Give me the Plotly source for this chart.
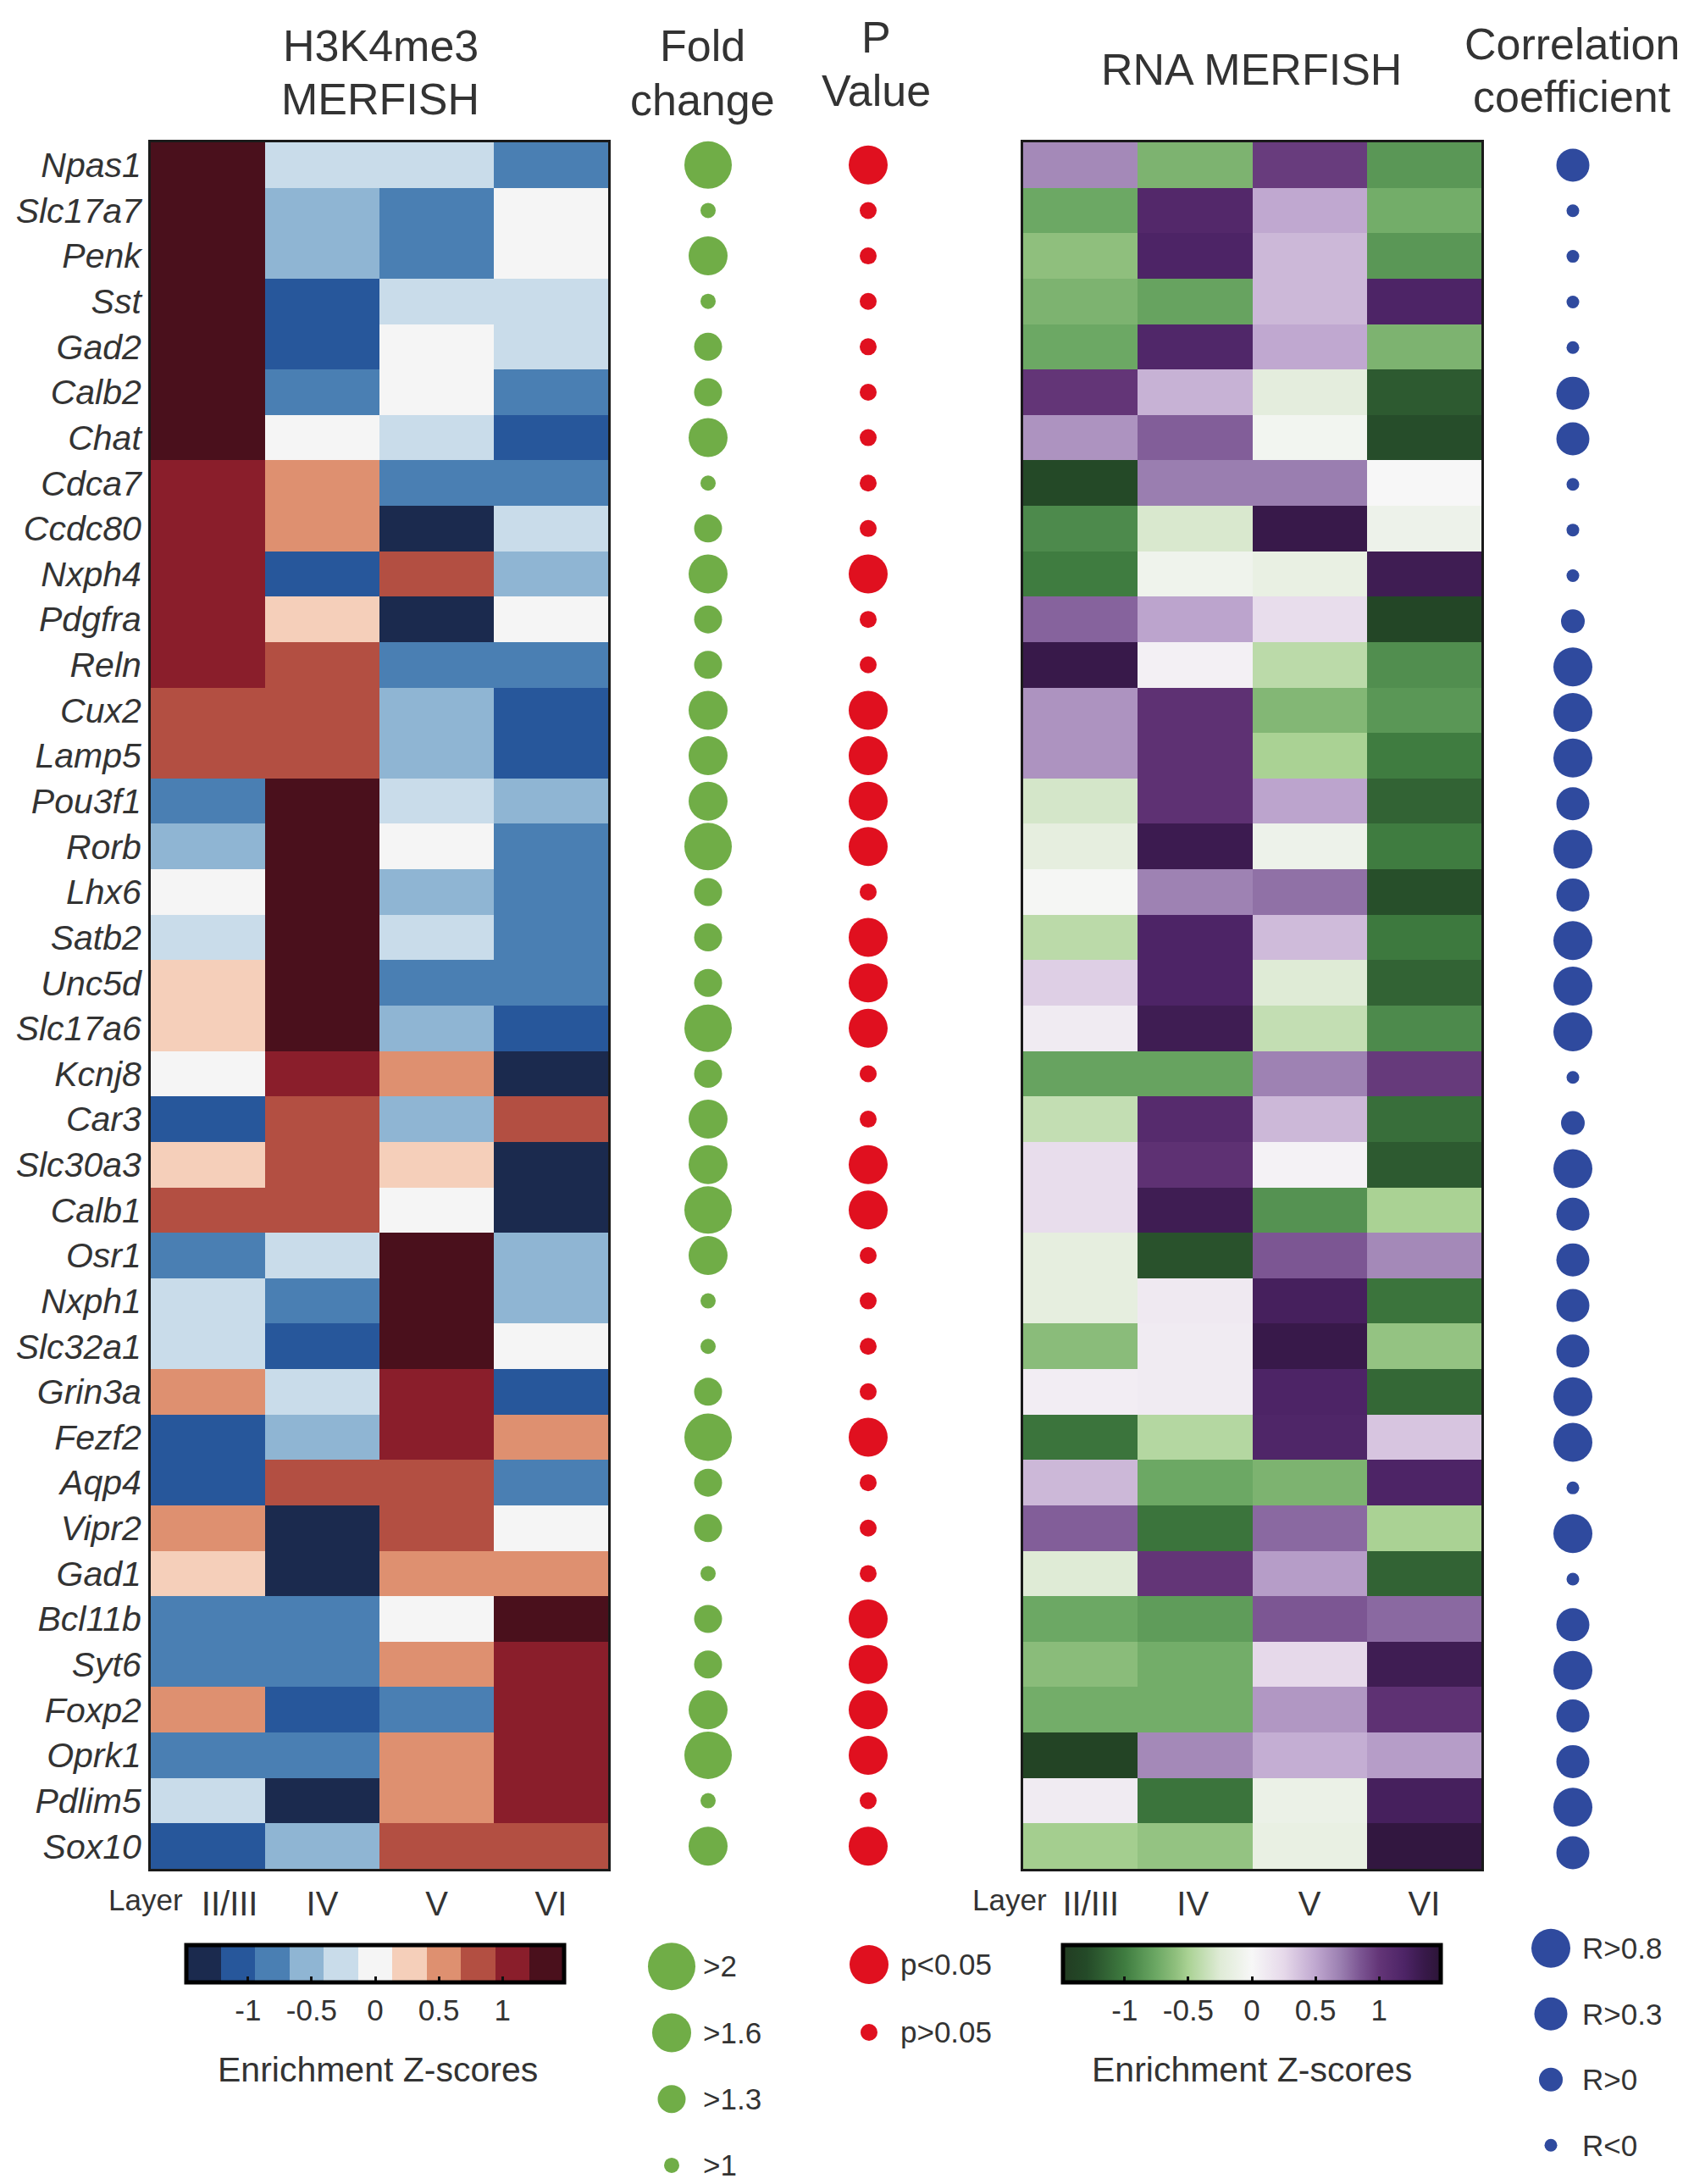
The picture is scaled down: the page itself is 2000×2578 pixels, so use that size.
import plotly.graph_objects as go

genes = ["Npas1","Slc17a7","Penk","Sst","Gad2","Calb2","Chat","Cdca7","Ccdc80","Nxph4","Pdgfra","Reln","Cux2","Lamp5","Pou3f1","Rorb","Lhx6","Satb2","Unc5d","Slc17a6","Kcnj8","Car3","Slc30a3","Calb1","Osr1","Nxph1","Slc32a1","Grin3a","Fezf2","Aqp4","Vipr2","Gad1","Bcl11b","Syt6","Foxp2","Oprk1","Pdlim5","Sox10"]
layers = ["II/III","IV","V","VI"]
layer_index = [0, 1, 2, 3]

h3_layer23 = [1.35,1.35,1.35,1.35,1.35,1.35,1.35,1.08,1.08,1.08,1.08,1.08,0.81,0.81,-0.81,-0.54,0,-0.27,0.27,0.27,0,-1.08,0.27,0.81,-0.81,-0.27,-0.27,0.54,-1.08,-1.08,0.54,0.27,-0.81,-0.81,0.54,-0.81,-0.27,-1.08]
h3_layer4  = [-0.27,-0.54,-0.54,-1.08,-1.08,-0.81,0,0.54,0.54,-1.08,0.27,0.81,0.81,0.81,1.35,1.35,1.35,1.35,1.35,1.35,1.08,0.81,0.81,0.81,-0.27,-0.81,-1.08,-0.27,-0.54,0.81,-1.35,-1.35,-0.81,-0.81,-1.08,-0.81,-1.35,-0.54]
h3_layer5  = [-0.27,-0.81,-0.81,-0.27,0,0,-0.27,-0.81,-1.35,0.81,-1.35,-0.81,-0.54,-0.54,-0.27,0,-0.54,-0.27,-0.81,-0.54,0.54,-0.54,0.27,0,1.35,1.35,1.35,1.08,1.08,0.81,0.81,0.54,0,0.54,-0.81,0.54,0.54,0.81]
h3_layer6  = [-0.81,0,0,-0.27,-0.27,-0.81,-1.08,-0.81,-0.27,-0.54,0,-0.81,-1.08,-1.08,-0.54,-0.81,-0.81,-0.81,-0.81,-1.08,-1.35,0.81,-1.35,-1.35,-0.54,-0.54,0,-1.08,0.54,-0.81,0,0.54,1.35,1.08,1.08,1.08,1.08,0.81]

rna_layer23 = [0.65,-0.75,-0.6,-0.68,-0.75,1.0,0.6,-1.32,-0.92,-1.0,0.8,1.35,0.6,0.6,-0.3,-0.18,-0.02,-0.42,0.3,0.1,-0.78,-0.38,0.22,0.22,-0.18,-0.18,-0.62,0.08,-1.05,0.42,0.82,-0.25,-0.75,-0.62,-0.72,-1.38,0.1,-0.52]
rna_layer4  = [-0.68,1.15,1.2,-0.78,1.17,0.45,0.82,0.7,-0.28,-0.08,0.52,0.06,1.05,1.05,1.05,1.32,0.68,1.2,1.2,1.3,-0.78,1.12,1.05,1.3,-1.25,0.12,0.1,0.1,-0.45,-0.75,-1.05,1.0,-0.82,-0.72,-0.72,0.65,-1.05,-0.58]
rna_layer5  = [0.97,0.5,0.42,0.42,0.5,-0.2,-0.05,0.7,1.35,-0.15,0.22,-0.42,-0.65,-0.5,0.52,-0.1,0.75,0.4,-0.25,-0.38,0.68,0.42,0.04,-0.88,0.85,1.25,1.35,1.2,1.18,-0.68,0.78,0.55,0.85,0.25,0.58,0.47,-0.12,-0.15]
rna_layer6  = [-0.85,-0.72,-0.85,1.2,-0.68,-1.2,-1.28,0,-0.1,1.3,-1.35,-0.9,-0.85,-1.0,-1.15,-1.0,-1.27,-1.02,-1.15,-0.92,0.98,-1.08,-1.2,-0.5,0.65,-1.05,-0.58,-1.12,0.35,1.2,-0.5,-1.15,0.78,1.3,1.05,0.55,1.25,1.42]

fold_change = [2.2,1.1,1.8,1.1,1.4,1.4,1.8,1.1,1.4,1.8,1.4,1.4,1.8,1.8,1.8,2.2,1.4,1.4,1.4,2.2,1.4,1.8,1.8,2.2,1.8,1.1,1.1,1.4,2.2,1.4,1.4,1.1,1.4,1.4,1.8,2.2,1.1,1.8]
p_value = [0.01,0.2,0.2,0.2,0.2,0.2,0.2,0.2,0.2,0.01,0.2,0.2,0.01,0.01,0.01,0.01,0.2,0.01,0.01,0.01,0.2,0.2,0.01,0.01,0.2,0.2,0.2,0.2,0.01,0.2,0.2,0.2,0.01,0.01,0.01,0.01,0.2,0.01]
correlation = [0.5,-0.2,-0.2,-0.2,-0.2,0.5,0.5,-0.2,-0.2,-0.2,0.2,0.9,0.9,0.9,0.5,0.9,0.5,0.9,0.9,0.9,-0.2,0.2,0.9,0.5,0.5,0.5,0.5,0.9,0.9,-0.2,0.9,-0.2,0.5,0.9,0.5,0.5,0.9,0.5]

fold_legend = [">2",">1.6",">1.3",">1"]
fold_legend_values = [2.2,1.8,1.4,1.1]
p_legend = ["p<0.05","p>0.05"]
p_legend_values = [0.01,0.2]
r_legend = ["R>0.8","R>0.3","R>0","R<0"]
r_legend_values = [0.9,0.5,0.2,-0.2]
cb_ticks = [-1,-0.5,0,0.5,1]

W, H = 2000, 2578
FONT = "Liberation Sans"
INK = "#333333"
GREEN, RED, BLUE = "#70ad47", "#e0101f", "#2f4a9e"
ZMAX = 1.485

def xd(a, b): return [a / W, b / W]
def yd(top, bottom): return [1 - bottom / H, 1 - top / H]
def fold_size(v): return 56 if v > 2 else 46 if v > 1.6 else 33 if v > 1.3 else 18
def p_size(v): return 46 if v < 0.05 else 20
def r_size(v): return 46 if v > 0.8 else 39 if v > 0.3 else 28 if v > 0 else 15

blues_reds = ["#1b2a4e","#27579b","#4a7fb3","#8fb5d3","#c9dcea","#f5f5f5","#f5cfba","#de9070","#b34f42","#8a1e2b","#4a101c"]
discrete = []
for i, c in enumerate(blues_reds):
    discrete += [[i / 11, c], [(i + 1) / 11, c]]
prgn = [[0,"#223c22"],[0.062,"#244a28"],[0.096,"#2d5a30"],[0.163,"#3f7c40"],[0.214,"#5a9756"],[0.247,"#6ca864"],
        [0.298,"#8fbf7d"],[0.332,"#aad294"],[0.416,"#dfebd6"],[0.5,"#f7f7f7"],[0.584,"#e6d9ea"],[0.668,"#c0a8d0"],
        [0.736,"#9a7eb0"],[0.786,"#7c5693"],[0.837,"#633577"],[0.904,"#4d2466"],[0.955,"#38194a"],[1,"#2c1537"]]

def colorbar(x0, x1):
    return dict(orientation="h", x=(x0 + x1) / 2 / W, xanchor="center", y=1 - 2296 / H, yanchor="top",
                lenmode="pixels", len=x1 - x0, thicknessmode="pixels", thickness=44, xpad=0, ypad=0,
                outlinecolor="#000000", outlinewidth=5, borderwidth=0,
                tickmode="array", tickvals=cb_ticks, ticktext=[str(t) for t in cb_ticks],
                ticks="inside", ticklen=9, tickwidth=3, tickcolor="#111111",
                tickfont=dict(family=FONT, size=35, color=INK))

def rows(*cols):
    return [list(r) for r in zip(*cols)]

fig = go.Figure()
fig.add_trace(go.Heatmap(z=rows(h3_layer23, h3_layer4, h3_layer5, h3_layer6), x=layer_index, y=genes,
                         colorscale=discrete, zmin=-ZMAX, zmax=ZMAX, colorbar=colorbar(220, 666),
                         xaxis="x", yaxis="y"))
fig.add_trace(go.Heatmap(z=rows(rna_layer23, rna_layer4, rna_layer5, rna_layer6), x=layer_index, y=genes,
                         colorscale=prgn, zmin=-ZMAX, zmax=ZMAX, colorbar=colorbar(1255, 1701),
                         xaxis="x2", yaxis="y2"))

def dots(xs, ys, sizes, color, xa, ya):
    fig.add_trace(go.Scatter(x=xs, y=ys, mode="markers", xaxis=xa, yaxis=ya, showlegend=False, cliponaxis=False,
                             marker=dict(size=sizes, color=color, opacity=1, line_width=0)))

dots([0] * len(genes), genes, [fold_size(v) for v in fold_change], GREEN, "x3", "y")
dots([0] * len(genes), genes, [p_size(v) for v in p_value], RED, "x4", "y")
dots([0] * len(genes), genes, [r_size(v) for v in correlation], BLUE, "x5", "y3")
dots([0] * 4, fold_legend, [fold_size(v) for v in fold_legend_values], GREEN, "x6", "y4")
dots([0] * 2, p_legend, [p_size(v) for v in p_legend_values], RED, "x7", "y5")
dots([0] * 4, r_legend, [r_size(v) for v in r_legend_values], BLUE, "x8", "y6")

frame = dict(showline=True, mirror=True, linecolor="#1a1a1a", linewidth=3, showgrid=False, zeroline=False)
tickf = dict(family=FONT, size=40, color=INK)
hidden_x = dict(visible=False, range=[-1, 1], fixedrange=True)
HM_Y = yd(168, 2206)

def legend_y(top, bottom, cats, rng, anchor):
    return dict(domain=yd(top, bottom), type="category", categoryorder="array", categoryarray=cats, range=rng,
                side="right", anchor=anchor, showline=False, showgrid=False, zeroline=False, ticks="",
                ticklabelstandoff=6, tickfont=dict(family=FONT, size=35, color=INK))

h3_layer_ticks = [0.19, 1, 2, 3]
rna_layer_ticks = [0.09, 0.98, 2, 3]
fig.update_layout(
    width=W, height=H, margin=dict(l=0, r=0, t=0, b=0), paper_bgcolor="white", plot_bgcolor="rgba(0,0,0,0)",
    showlegend=False, font=dict(family=FONT, color=INK),
    xaxis=dict(domain=xd(178, 718), anchor="y", type="linear", range=[-0.5, 3.5], tickmode="array",
               tickvals=h3_layer_ticks, ticktext=layers, ticks="", tickfont=tickf, ticklabelstandoff=4, **frame),
    xaxis2=dict(domain=xd(1208, 1749), anchor="y2", type="linear", range=[-0.5, 3.5], tickmode="array",
                tickvals=rna_layer_ticks, ticktext=layers, ticks="", tickfont=tickf, ticklabelstandoff=4, **frame),
    yaxis=dict(domain=HM_Y, anchor="x", type="category", categoryorder="array", categoryarray=genes,
               range=[37.5, -0.5], ticks="", ticklabelstandoff=0,
               tickfont=dict(family=FONT, size=41, color=INK, style="italic"), **frame),
    yaxis2=dict(domain=HM_Y, anchor="x2", type="category", categoryorder="array", categoryarray=genes,
                range=[37.5, -0.5], showticklabels=False, ticks="", **frame),
    yaxis3=dict(domain=yd(168, 2214), anchor="x5", type="category", categoryorder="array", categoryarray=genes,
                range=[37.5, -0.5], visible=False),
    xaxis3=dict(domain=xd(786, 886), anchor="y", **hidden_x),
    xaxis4=dict(domain=xd(975, 1075), anchor="y", **hidden_x),
    xaxis5=dict(domain=xd(1807, 1907), anchor="y3", **hidden_x),
    xaxis6=dict(domain=xd(763, 823), anchor="y4", **hidden_x),
    xaxis7=dict(domain=xd(996, 1056), anchor="y5", **hidden_x),
    xaxis8=dict(domain=xd(1801, 1861), anchor="y6", **hidden_x),
    yaxis4=legend_y(2282, 2575, fold_legend, [3.243, -0.5], "x6"),
    yaxis5=legend_y(2279, 2439, p_legend, [1.5, -0.5], "x7"),
    yaxis6=legend_y(2261, 2571, r_legend, [3.5, -0.5], "x8"),
)

def note(text, x, y, size):
    fig.add_annotation(text=text, x=x / W, y=1 - y / H, xref="paper", yref="paper", showarrow=False,
                       xanchor="center", yanchor="middle", font=dict(family=FONT, size=size, color=INK), align="center")

note("H3K4me3", 449, 54, 52)
note("MERFISH", 449, 117, 52)
note("Fold", 829, 54, 52)
note("change", 829, 118, 52)
note("P", 1034, 44, 52)
note("Value", 1034, 107, 52)
note("RNA MERFISH", 1477, 82, 52)
note("Correlation", 1856, 52, 52)
note("coefficient", 1856, 114, 52)
note("Layer", 172, 2242, 35)
note("Layer", 1192, 2242, 35)
note("Enrichment Z-scores", 446, 2443, 41)
note("Enrichment Z-scores", 1478, 2443, 41)

fig.write_html("out.html", config=dict(displayModeBar=False), post_script="document.body.style.margin='0';")
